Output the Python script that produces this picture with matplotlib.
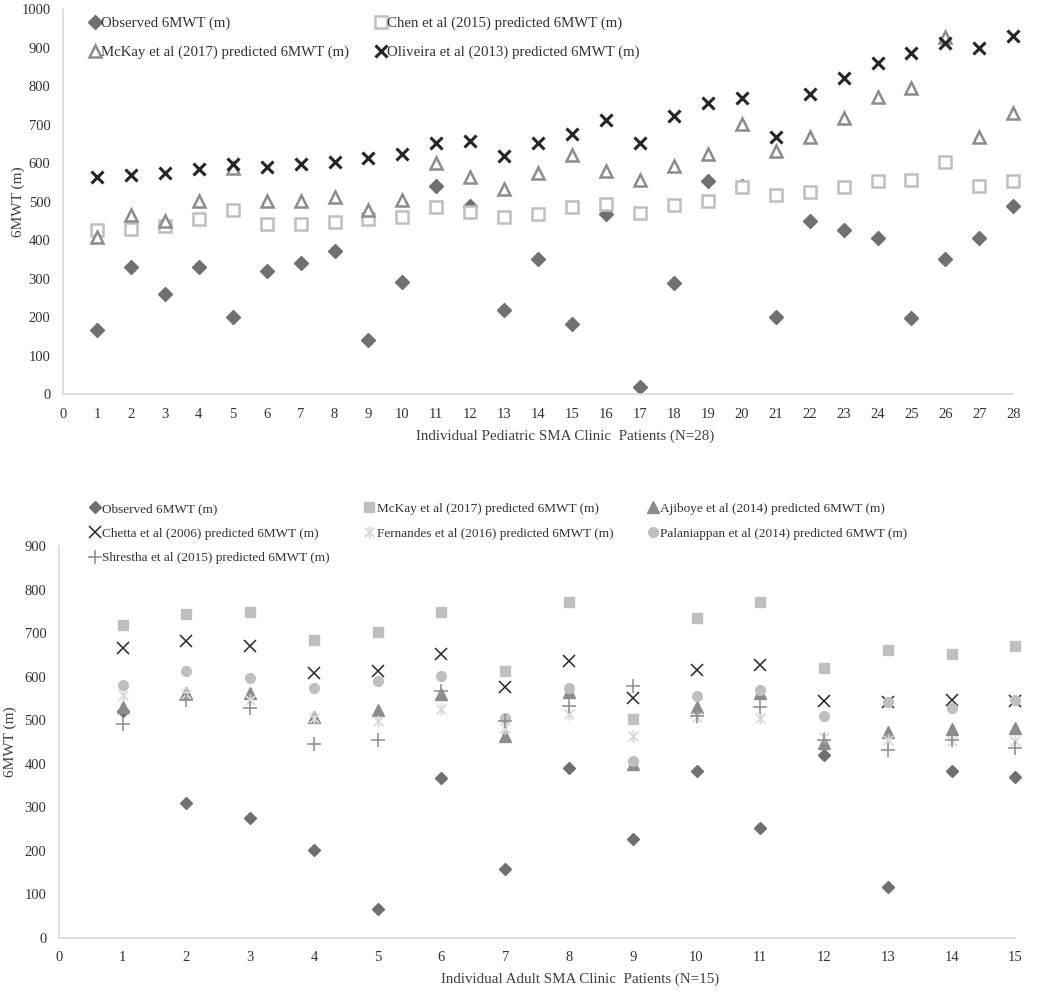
import numpy as np
import matplotlib
matplotlib.use("Agg")
import matplotlib.pyplot as plt
from matplotlib.path import Path

plt.rcParams["font.family"] = ["Liberation Serif", "DejaVu Serif"]

# ---- pediatric cohort (top panel) ----
ped_patient = list(range(1, 29))
ped_observed = [167, 331, 260, 331, 201, 319, 340, 372, 141, 292, 542, 490, 219, 352,
                183, 467, 20, 289, 553, 540, 201, 450, 427, 405, 197, 350, 405, 488]
ped_chen = [427, 428, 437, 455, 479, 441, 443, 448, 455, 461, 486, 474, 461, 468,
            486, 494, 471, 492, 503, 537, 518, 525, 539, 553, 557, 604, 542, 553]
ped_mckay = [409, 466, 451, 502, 587, 502, 502, 512, 479, 505, 600, 563, 532, 574,
             621, 580, 556, 592, 623, 701, 632, 669, 717, 773, 795, 927, 669, 731]
ped_oliveira = [564, 569, 574, 586, 597, 590, 598, 604, 613, 624, 652, 657, 619, 652,
                675, 711, 652, 723, 756, 770, 669, 779, 821, 860, 886, 913, 898, 931]

# ---- adult cohort (bottom panel) ----
adult_patient = list(range(1, 16))
adult_observed = [522, 309, 274, 201, 65, 367, 157, 391, 226, 382, 252, 420, 116, 384, 370]
adult_mckay = [718, 744, 749, 685, 703, 749, 613, 772, 502, 734, 772, 621, 662, 652, 670]
adult_ajiboye = [531, 563, 563, 508, 523, 561, 463, 565, 400, 531, 563, 448, 473, 479, 482]
adult_chetta = [666, 681, 671, 608, 612, 652, 577, 635, 550, 615, 628, 544, 541, 546, 544]
adult_fernandes = [557, 560, 546, 504, 498, 526, 481, 515, 464, 508, 506, 462, 454, 453, 453]
adult_palaniappan = [581, 613, 596, 575, 590, 601, 506, 573, 407, 555, 569, 509, 542, 528, 547]
adult_shrestha = [491, 546, 529, 446, 454, 567, 498, 533, 578, 509, 530, 455, 431, 455, 437]

AXIS_GREY = "#D9D9D9"
TXT = "#404040"

# excel style "star" marker: an x with a vertical bar through it
star = Path([(-1, -1), (1, 1), (-1, 1), (1, -1), (0, -1.3), (0, 1.3)],
            [Path.MOVETO, Path.LINETO, Path.MOVETO, Path.LINETO, Path.MOVETO, Path.LINETO])


def style_axes(ax, xmax, ymax, ystep, xlabel, xlab_pos, ylab_pos):
    ax.set_xlim(0, xmax)
    ax.set_ylim(0, ymax)
    ax.set_xticks(range(0, xmax + 1))
    ax.set_yticks(range(0, ymax + 1, ystep))
    for s in ["top", "right"]:
        ax.spines[s].set_visible(False)
    for s in ["left", "bottom"]:
        ax.spines[s].set_color(AXIS_GREY)
        ax.spines[s].set_linewidth(1.2)
    ax.tick_params(length=0, labelsize=10.5, colors="#333333")
    ax.tick_params(axis="x", pad=10)
    ax.tick_params(axis="y", pad=9)
    ax.set_xlabel(xlabel, fontsize=10.8, color=TXT, labelpad=6)
    ax.xaxis.label.set_x(xlab_pos)
    ax.set_ylabel("6MWT (m)", fontsize=11, color=TXT)
    ax.yaxis.set_label_coords(ylab_pos, 0.5)


def row_major(handles, labels, ncol):
    # excel fills legend rows left to right; matplotlib fills columns
    nrow = int(np.ceil(len(handles) / ncol))
    order = []
    for c in range(ncol):
        for r in range(nrow):
            i = r * ncol + c
            if i < len(handles):
                order.append(i)
    return [handles[i] for i in order], [labels[i] for i in order]


fig = plt.figure(figsize=(10.5, 10.06), dpi=100)

# ---------- top panel ----------
ax1 = fig.add_axes([0.060, 0.608, 0.905, 0.383])
ax1.plot(ped_patient, ped_observed, ls="none", marker="D", ms=7.5, color="#707070",
         label="Observed 6MWT (m)", clip_on=False)
ax1.plot(ped_patient, ped_chen, ls="none", marker="s", ms=8, mfc="white", mec="#BFBFBF",
         mew=1.8, label="Chen et al (2015) predicted 6MWT (m)", clip_on=False)
ax1.plot(ped_patient, ped_mckay, ls="none", marker="^", ms=9, mfc="white", mec="#8C8C8C",
         mew=1.8, label="McKay et al (2017) predicted 6MWT (m)", clip_on=False)
ax1.plot(ped_patient, ped_oliveira, ls="none", marker="x", ms=8, color="#262626",
         mew=2.2, label="Oliveira et al (2013) predicted 6MWT (m)", clip_on=False)
style_axes(ax1, 28, 1000, 100, "Individual Pediatric SMA Clinic  Patients (N=28)",
           0.528, -0.040)
h, l = row_major(*ax1.get_legend_handles_labels(), 2)
ax1.legend(h, l, loc="upper left", bbox_to_anchor=(0.0848, 0.9834),
           bbox_transform=fig.transFigure, ncol=2, frameon=False, fontsize=10.7,
           borderpad=0, borderaxespad=0, handletextpad=0.0, columnspacing=1.75,
           labelspacing=1.05, handlelength=0.8, labelcolor="#333333")

# ---------- bottom panel ----------
ax2 = fig.add_axes([0.056, 0.068, 0.911, 0.389])
ax2.plot(adult_patient, adult_observed, ls="none", marker="D", ms=6, color="#707070",
         label="Observed 6MWT (m)", clip_on=False)
ax2.plot(adult_patient, adult_mckay, ls="none", marker="s", ms=7, color="#BFBFBF",
         label="McKay et al (2017) predicted 6MWT (m)", clip_on=False)
ax2.plot(adult_patient, adult_ajiboye, ls="none", marker="^", ms=8, color="#8C8C8C",
         label="Ajiboye et al (2014) predicted 6MWT (m)", clip_on=False)
ax2.plot(adult_patient, adult_chetta, ls="none", marker="x", ms=9, color="#262626",
         mew=1.1, label="Chetta et al (2006) predicted 6MWT (m)", clip_on=False)
ax2.plot(adult_patient, adult_fernandes, ls="none", marker=star, ms=9, color="#D9D9D9",
         mew=1.3, label="Fernandes et al (2016) predicted 6MWT (m)", clip_on=False)
ax2.plot(adult_patient, adult_palaniappan, ls="none", marker="o", ms=7, color="#BFBFBF",
         label="Palaniappan et al (2014) predicted 6MWT (m)", clip_on=False)
ax2.plot(adult_patient, adult_shrestha, ls="none", marker="+", ms=10, color="#8C8C8C",
         mew=1.1, label="Shrestha et al (2015) predicted 6MWT (m)", clip_on=False)
style_axes(ax2, 15, 900, 100, "Individual Adult SMA Clinic  Patients (N=15)",
           0.545, -0.044)
h, l = row_major(*ax2.get_legend_handles_labels(), 3)
ax2.legend(h, l, loc="upper left", bbox_to_anchor=(0.0842, 0.5003),
           bbox_transform=fig.transFigure, ncol=3, frameon=False, fontsize=9.5,
           borderpad=0, borderaxespad=0, handletextpad=0.05, columnspacing=2.5,
           labelspacing=0.95, handlelength=1.0, labelcolor="#333333")

fig.savefig("out.png", dpi=100)
